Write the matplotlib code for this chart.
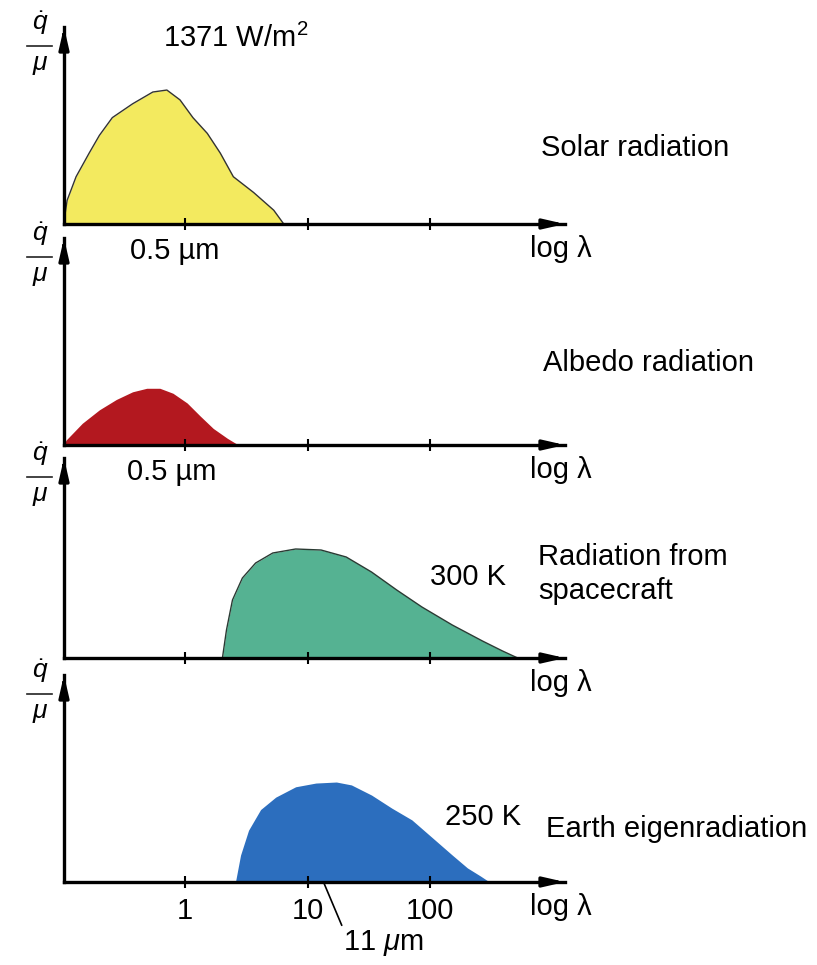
import matplotlib.pyplot as plt
from matplotlib.lines import Line2D

plt.rcParams['font.family'] = ['Liberation Sans', 'DejaVu Sans']
plt.rcParams['mathtext.fontset'] = 'custom'
plt.rcParams['mathtext.rm'] = 'Liberation Sans'
plt.rcParams['mathtext.it'] = 'Liberation Sans:italic'

W, H = 817, 965

# wavelength in micrometre, intensity relative to panel height (0..100)
solar_lam = [0.102, 0.109, 0.129, 0.165, 0.20, 0.255, 0.373, 0.546, 0.711,
             0.91, 1.16, 1.52, 1.94, 2.48, 3.63, 5.3, 6.4]
solar_val = [0, 12, 24, 36, 45, 54, 61, 67, 68, 63, 54, 46, 36, 24, 16, 7, 0]

albedo_lam = [0.102, 0.107, 0.145, 0.20, 0.275, 0.373, 0.487, 0.623, 0.797,
              1.04, 1.33, 1.70, 2.22, 2.73]
albedo_val = [0, 2.4, 10.5, 17, 22, 25.7, 27.4, 27.4, 25, 20.3, 14, 8, 3.2, 0]

craft_lam = [2.02, 2.18, 2.44, 2.94, 3.77, 5.2, 8.0, 12.9, 20.7, 33.3, 53.5,
             85.9, 152, 268, 391, 520]
craft_val = [0, 14, 29, 40, 47.5, 52.5, 54.5, 54, 50.5, 43, 34, 25.5, 16.5,
             8.5, 3.5, 0]

earth_lam = [2.58, 2.84, 3.30, 4.14, 5.5, 8.0, 11.7, 17.2, 22.8, 33.3, 48.7,
             71.1, 104, 152, 202, 258, 306]
earth_val = [0, 13, 25, 35, 41, 46, 47.8, 48.3, 46.9, 42, 35.7, 30, 21.5,
             13, 6.8, 2.9, 0]

tick_vals = [1, 10, 100]
tick_labels = ['1', '10', '100']

FS = 21


def px(x, y):
    # pixel position in the picture -> figure fraction
    return x / W, 1 - y / H


def make_axes(fig, top, base, show_labels=False):
    ax = fig.add_axes([64 / W, 1 - base / H, (565 - 64) / W, (base - top) / H])
    ax.set_xscale('log')
    ax.set_xlim(0.1028, 1265)
    ax.set_ylim(0, 100)
    for s in ['top', 'right']:
        ax.spines[s].set_visible(False)
    for s in ['left', 'bottom']:
        ax.spines[s].set_linewidth(2.4)
        ax.spines[s].set_zorder(3)
    ax.set_xticks(tick_vals)
    ax.set_xticklabels(tick_labels)
    ax.minorticks_off()
    ax.set_yticks([])
    ax.tick_params(axis='x', direction='inout', length=8, width=1.5,
                   labelbottom=show_labels, labelsize=FS, pad=7)
    ax.patch.set_visible(False)
    # arrow heads
    head = '-|>,head_length=0.7,head_width=0.16'
    ax.annotate('', xy=(1.0, 0), xytext=(0.97, 0), xycoords='axes fraction',
                arrowprops=dict(arrowstyle=head, color='k', lw=2.4,
                                mutation_scale=18, shrinkA=0, shrinkB=0))
    ax.annotate('', xy=(0, 1.0), xytext=(0, 0.93), xycoords='axes fraction',
                arrowprops=dict(arrowstyle=head, color='k', lw=2.4,
                                mutation_scale=18, shrinkA=0, shrinkB=0))
    # y label q-dot over mu
    fig.text(*px(40, top - 4), r'$\dot{q}$', fontsize=19, ha='center', va='center')
    fig.add_artist(Line2D([27 / W, 52 / W], [1 - (top + 19) / H] * 2,
                          color='#222222', lw=1.2, transform=fig.transFigure))
    fig.text(*px(40, top + 38), r'$\mu$', fontsize=19, ha='center', va='center')
    fig.text(*px(530, base + 25), 'log λ', fontsize=FS, ha='left', va='center')
    return ax


fig = plt.figure(figsize=(W / 100, H / 100), dpi=100)

ax1 = make_axes(fig, 27, 224)
ax1.fill_between(solar_lam, solar_val, color='#f3ea5f', lw=0, zorder=1)
ax1.plot(solar_lam, solar_val, color='#333333', lw=1.0, zorder=2)
fig.text(*px(163, 38), r'1371 W/m$^2$', fontsize=FS, ha='left', va='center')
fig.text(*px(541, 148), 'Solar radiation', fontsize=FS, ha='left', va='center')
fig.text(*px(130, 251), '0.5 µm', fontsize=FS, ha='left', va='center')

ax2 = make_axes(fig, 238, 445)
ax2.fill_between(albedo_lam, albedo_val, color='#b3181f', lw=0, zorder=1)
fig.text(*px(543, 363), 'Albedo radiation', fontsize=FS, ha='left', va='center')
fig.text(*px(127, 472), '0.5 µm', fontsize=FS, ha='left', va='center')

ax3 = make_axes(fig, 458, 658)
ax3.fill_between(craft_lam, craft_val, color='#55b292', lw=0, zorder=1)
ax3.plot(craft_lam, craft_val, color='#2a3a33', lw=1.0, zorder=2)
fig.text(*px(430, 577), '300 K', fontsize=FS, ha='left', va='center')
fig.text(*px(538, 574), 'Radiation from\nspacecraft', fontsize=FS, ha='left',
         va='center', linespacing=1.25)

ax4 = make_axes(fig, 675, 882, show_labels=True)
ax4.fill_between(earth_lam, earth_val, color='#2c6ebe', lw=0, zorder=1)
fig.text(*px(445, 817), '250 K', fontsize=FS, ha='left', va='center')
fig.text(*px(546, 829), 'Earth eigenradiation', fontsize=FS, ha='left', va='center')
ax4.annotate(r'11 $\mu$m', xy=(13.5, 0), xytext=(14, -44),
             textcoords='offset points', fontsize=FS, ha='left', va='center',
             arrowprops=dict(arrowstyle='-', color='k', lw=1.2, relpos=(0.0, 1.0),
                             shrinkA=0, shrinkB=0))

fig.savefig('out.png', dpi=100)
